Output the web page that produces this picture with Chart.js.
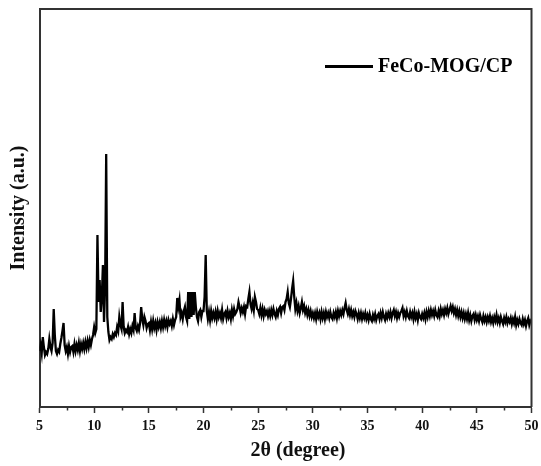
<!DOCTYPE html>
<html>
<head>
<meta charset="utf-8">
<title>FeCo-MOG/CP XRD</title>
<script src="https://cdn.jsdelivr.net/npm/chart.js@4.4.1/dist/chart.umd.min.js"></script>
<style>
  html, body { margin: 0; padding: 0; background: #fff; }
  #wrap { width: 541px; height: 466px; position: relative; }
</style>
</head>
<body>
<div id="wrap"><canvas id="chart-xrd"></canvas></div>
<script>
// =========================================
// DATA (XRD pattern)
// =========================================

const seriesLabel = 'FeCo-MOG/CP';
const xTitle = '2θ (degree)';
const yTitle = 'Intensity (a.u.)';
const startAngle = 5;      // first 2θ value
const angleStep = 0.1;     // spacing between readings

// intensity (a.u.), one row per degree: x.0 ... x.9
const intensity = [
    56, 62, 54, 70, 60, 52, 55, 53, 58, 68,        // 5
    60, 56, 64, 98, 72, 56, 53, 57, 55, 63,        // 6
    69, 76, 84, 62, 56, 60, 53, 61, 55, 60,        // 7
    61, 55, 63, 56, 62, 57, 64, 56, 63, 58,        // 8
    64, 58, 65, 59, 66, 60, 67, 62, 68, 72,        // 9
    80, 74, 78, 172, 105, 127, 95, 110, 142, 85,   // 10
    120, 253, 90, 75, 67, 70, 68, 73, 70, 74,      // 11
    72, 80, 76, 90, 82, 78, 105, 80, 74, 77,       // 12
    75, 80, 73, 78, 74, 81, 77, 94, 79, 76,        // 13
    81, 77, 84, 100, 88, 82, 90, 86, 79, 83,       // 14
    84, 77, 85, 78, 86, 79, 84, 77, 85, 80,        // 15
    85, 79, 86, 80, 87, 81, 86, 80, 87, 83,        // 16
    86, 81, 88, 82, 87, 90, 109, 100, 107, 90,     // 17
    94, 88, 96, 100, 90, 86, 115, 88, 115, 90,     // 18
    115, 92, 115, 100, 90, 86, 95, 97, 90, 96,     // 19
    96, 110, 152, 96, 88, 95, 87, 96, 89, 94,      // 20
    89, 95, 88, 96, 90, 94, 89, 97, 88, 93,        // 21
    95, 89, 96, 90, 94, 88, 97, 91, 98, 93,        // 22
    95, 98, 105, 100, 94, 99, 95, 100, 93, 101,    // 23
    100, 108, 115, 103, 98, 104, 97, 110, 105, 98, // 24
    97, 93, 99, 92, 98, 91, 97, 93, 96, 91,        // 25
    96, 91, 97, 92, 98, 93, 90, 96, 92, 98,        // 26
    100, 94, 100, 101, 97, 105, 108, 115, 104, 100,// 27
    108, 118, 126, 110, 98, 104, 96, 101, 94, 99,  // 28
    105, 97, 101, 94, 98, 92, 97, 91, 96, 90,      // 29
    94, 89, 94, 88, 95, 90, 94, 88, 95, 89,        // 30
    94, 88, 95, 90, 94, 89, 95, 90, 88, 94,        // 31
    90, 95, 89, 96, 91, 96, 92, 97, 93, 99,        // 32
    104, 97, 93, 98, 92, 97, 91, 95, 90, 96,       // 33
    93, 88, 94, 89, 94, 88, 93, 89, 94, 88,        // 34
    92, 87, 93, 88, 86, 92, 88, 93, 87, 91,        // 35
    93, 88, 94, 89, 95, 90, 87, 93, 89, 94,        // 36
    90, 95, 89, 94, 97, 91, 95, 89, 94, 90,        // 37
    94, 96, 99, 91, 95, 90, 96, 91, 89, 95,        // 38
    90, 94, 88, 95, 89, 93, 87, 94, 90, 88,        // 39
    93, 89, 94, 88, 95, 90, 96, 91, 97, 92,        // 40
    96, 91, 97, 92, 90, 96, 91, 98, 93, 97,        // 41
    92, 98, 94, 99, 93, 97, 101, 96, 100, 94,      // 42
    98, 92, 97, 91, 96, 90, 95, 89, 94, 88,        // 43
    93, 88, 94, 87, 92, 86, 91, 93, 87, 92,        // 44
    87, 91, 86, 92, 88, 85, 91, 86, 90, 85,        // 45
    90, 86, 91, 85, 89, 84, 90, 86, 92, 85,        // 46
    89, 84, 90, 86, 83, 89, 85, 90, 84, 88,        // 47
    85, 89, 83, 88, 84, 90, 82, 87, 83, 88,        // 48
    84, 82, 88, 83, 87, 81, 86, 89, 82, 86,        // 49
    84                                             // 50
];

const xTicks = [5, 10, 15, 20, 25, 30, 35, 40, 45, 50];
const xMinorTicks = [7.5, 12.5, 17.5, 22.5, 27.5, 32.5, 37.5, 42.5, 47.5];

// 2θ for each reading
const twoTheta = intensity.map((v, i) => +(startAngle + i * angleStep).toFixed(1));

// =========================================
// STYLE
// =========================================

const serifFont = '"Liberation Serif", "Times New Roman", Times, serif';
const axisColor = '#333333';

// frame (top/right), minor ticks, x title and the legend inside the plot
const framePlugin = {
    id: 'frame',
    afterDraw(chart) {
        const ctx = chart.ctx;
        const area = chart.chartArea;
        const xs = chart.scales.x;
        ctx.save();
        ctx.strokeStyle = axisColor;
        ctx.lineWidth = 2;
        ctx.beginPath();
        ctx.moveTo(area.left, area.top);
        ctx.lineTo(area.right, area.top);
        ctx.lineTo(area.right, area.bottom);
        ctx.stroke();

        // minor ticks, outward
        ctx.lineWidth = 1.5;
        xMinorTicks.forEach(v => {
            const px = Math.round(xs.getPixelForValue(v)) + 0.5;
            ctx.beginPath();
            ctx.moveTo(px, area.bottom);
            ctx.lineTo(px, area.bottom + 3.5);
            ctx.stroke();
        });

        // x axis title (sits a bit right of centre in the original)
        ctx.fillStyle = '#111';
        ctx.font = 'bold 20px ' + serifFont;
        ctx.textBaseline = 'middle';
        ctx.textAlign = 'center';
        ctx.fillText(xTitle, 298, 451);

        // legend
        const ds = chart.data.datasets[0];
        ctx.strokeStyle = ds.borderColor;
        ctx.lineWidth = 3;
        ctx.beginPath();
        ctx.moveTo(325, 66.5);
        ctx.lineTo(373, 66.5);
        ctx.stroke();
        ctx.fillStyle = '#000';
        ctx.textAlign = 'left';
        ctx.fillText(ds.label, 378, 67);
        ctx.restore();
    }
};

function initXrdChart() {
    const ctx = document.getElementById('chart-xrd');
    if (!ctx) return;
    new Chart(ctx.getContext('2d'), {
        type: 'line',
        data: {
            datasets: [{
                label: seriesLabel,
                data: twoTheta.map((x, i) => ({ x: x, y: intensity[i] })),
                borderColor: '#000000',
                borderWidth: 2.3,
                pointRadius: 0,
                tension: 0,
                fill: false
            }]
        },
        options: {
            responsive: true,
            maintainAspectRatio: false,
            animation: false,
            events: [],
            layout: { padding: { top: 9, right: 9.5, left: 0, bottom: 0 } },
            plugins: { legend: { display: false }, tooltip: { enabled: false } },
            scales: {
                x: {
                    type: 'linear',
                    min: 5,
                    max: 50,
                    afterBuildTicks: scale => { scale.ticks = xTicks.map(v => ({ value: v })); },
                    afterFit: scale => {
                        scale.height = 59;
                        // let the "50" label overhang instead of shrinking the plot
                        scale.paddingRight = 0;
                        scale.paddingLeft = 0;
                    },
                    border: { color: axisColor, width: 2 },
                    grid: { drawOnChartArea: false, drawTicks: true, tickLength: 6, tickWidth: 1.5, tickColor: axisColor },
                    ticks: {
                        color: '#111',
                        padding: 5,
                        maxRotation: 0,
                        font: { family: serifFont, size: 14, weight: 'bold' }
                    },
                    title: { display: false }
                },
                y: {
                    min: 0,
                    max: 398,
                    afterFit: scale => { scale.width = 39.5; },
                    border: { color: axisColor, width: 2 },
                    grid: { drawOnChartArea: false, drawTicks: false },
                    ticks: { display: false },
                    title: {
                        display: true,
                        text: yTitle,
                        color: '#111',
                        padding: { top: 6.5, bottom: 0 },
                        font: { family: serifFont, size: 20, weight: 'bold' }
                    }
                }
            }
        },
        plugins: [framePlugin]
    });
}

initXrdChart();
</script>
</body>
</html>
